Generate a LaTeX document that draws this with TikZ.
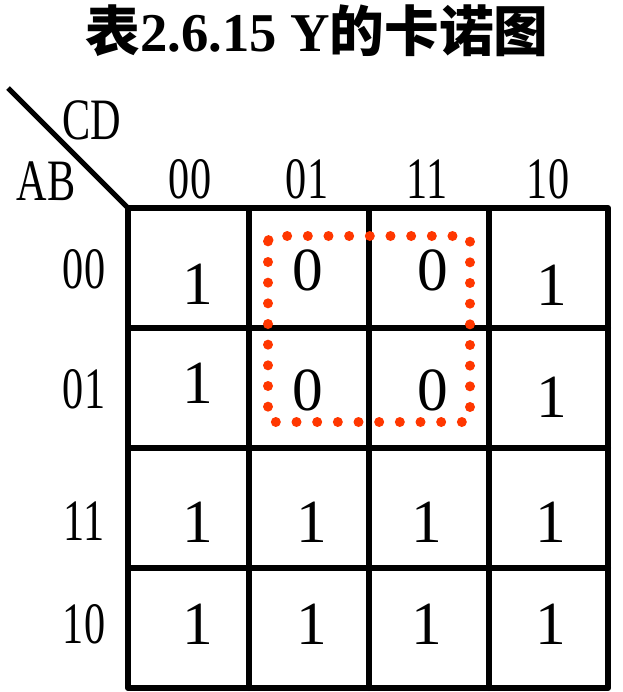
\documentclass[tikz,border=0pt]{standalone}
\usepackage{fontspec}
\setmainfont{Liberation Serif}
\newfontfamily\cjk{Noto Sans CJK SC}
\newfontfamily\lblfont[FakeStretch=0.72]{Liberation Serif}
\usepackage{tikz}
\usetikzlibrary{positioning}

\definecolor{loopred}{RGB}{255,55,0}
\tikzset{
  gridline/.style={line width=4.5pt, line cap=round, line join=round},
  lbl/.style={inner sep=0pt, anchor=center, font=\lblfont\fontsize{44}{44}\selectfont},
  val/.style={inner sep=0pt, anchor=center, font=\fontsize{46}{46}\selectfont},
  loopbox/.style={color=loopred, line width=7.5pt, line cap=round, dash pattern=on 0pt off 15.5pt, rounded corners=4pt}
}

\begin{document}
\begin{tikzpicture}[x=0.75pt,y=0.75pt,yscale=-1]
\useasboundingbox (0,0) rectangle (622,692);

% Title
\node (title) at (317,31) [inner sep=0pt, font=\fontsize{41}{41}\selectfont] {{\cjk\bfseries 表}{\bfseries 2.6.15 Y}{\cjk\bfseries 的卡诺图}};

%Straight Lines: corner diagonal
\coordinate (diagA) at (8,88);
\coordinate (diagB) at (128,208);
\draw [line width=3.8pt] (diagA) -- (diagB);

% Text Node
\node (lblCD) at (92,120) [lbl] {CD};
% Text Node
\node (lblAB) at (46,181) [lbl] {AB};

% Column labels
\node (c00) at (190,179) [lbl] {00};
\node (c01) at (307,179) [lbl] {01};
\node (c11) at (427,179) [lbl] {11};
\node (c10) at (548,179) [lbl] {10};

% Row labels
\node (r00) at (84,269) [lbl] {00};
\node (r01) at (84,389) [lbl] {01};
\node (r11) at (84,521) [lbl] {11};
\node (r10) at (84,624) [lbl] {10};

%Shape: Grid
\draw [gridline] (128,208) rectangle (608,688);
\draw [gridline] (249,208) -- (249,688);
\draw [gridline] (369,208) -- (369,688);
\draw [gridline] (489,208) -- (489,688);
\draw [gridline] (128,328) -- (608,328);
\draw [gridline] (128,448) -- (608,448);
\draw [gridline] (128,568) -- (608,568);

% Cell values
\node (m00) at (198,284) [val] {1};
\node (m01) at (308,270) [val] {0};
\node (m03) at (433,270) [val] {0};
\node (m02) at (552,285) [val] {1};
\node (m10) at (198,383) [val] {1};
\node (m11) at (308,390) [val] {0};
\node (m13) at (433,390) [val] {0};
\node (m12) at (552,397) [val] {1};
\node (m30) at (198,522) [val] {1};
\node (m31) at (312,522) [val] {1};
\node (m33) at (427,522) [val] {1};
\node (m32) at (551,522) [val] {1};
\node (m20) at (198,624) [val] {1};
\node (m21) at (312,624) [val] {1};
\node (m23) at (427,624) [val] {1};
\node (m22) at (551,624) [val] {1};

%Shape: dotted loop
\draw [loopbox] (268,236) rectangle (470,422);

\end{tikzpicture}
\end{document}
